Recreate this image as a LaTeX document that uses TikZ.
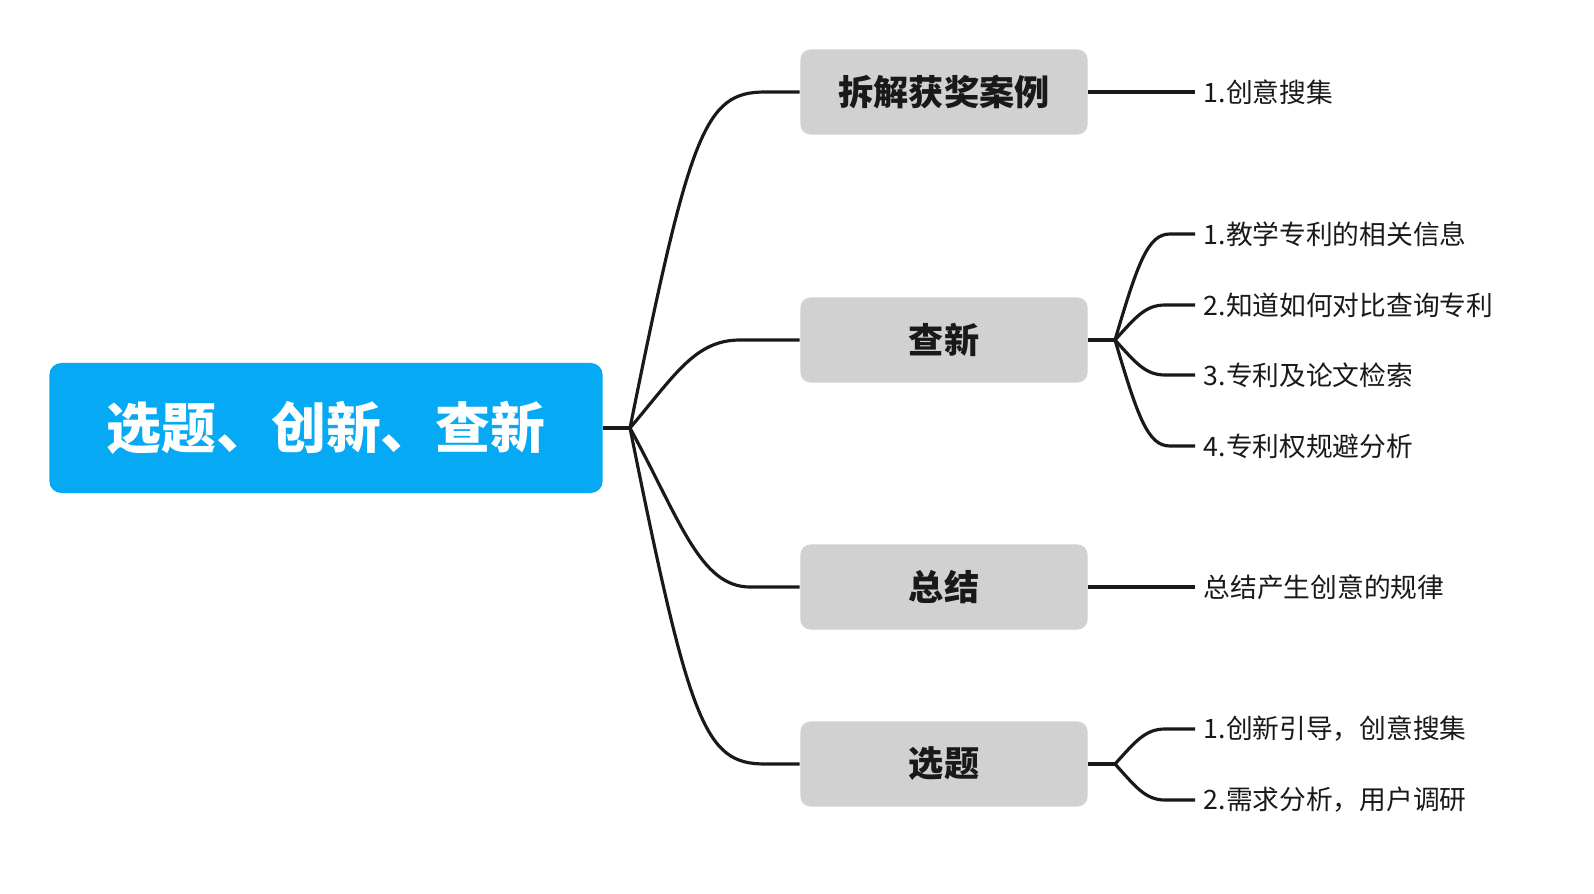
\documentclass[tikz,border=0pt]{standalone}
\usepackage{fontspec}
\newfontfamily\cjk{Noto Sans CJK SC}
\definecolor{topicblue}{RGB}{6,169,244}
\definecolor{subgray}{RGB}{209,209,209}
\tikzset{
  maintopic/.style={rectangle, rounded corners=0.12cm, fill=topicblue, text=white,
    minimum width=5.53cm, minimum height=1.30cm, font=\cjk\bfseries\fontsize{15.6}{18}\selectfont},
  subtopic/.style={rectangle, rounded corners=0.1cm, fill=subgray, text=black!90,
    minimum width=2.87cm, minimum height=0.85cm, font=\cjk\bfseries\fontsize{10}{12}\selectfont},
  leaf/.style={anchor=west, inner xsep=2.3pt, inner ysep=0pt, text=black!90,
    font=\cjk\fontsize{7.6}{9}\selectfont},
  branch/.style={line width=0.9pt, draw=black!90}
}
\begin{document}
\begin{tikzpicture}[x=0.01cm, y=-0.01cm]
\useasboundingbox (0,0) rectangle (1594,894);
%main topic
\node [maintopic] (root) at (326,428) {选题、创新、查新};
%sub topics
\node [subtopic] (case) at (944,92) {拆解获奖案例};
\node [subtopic] (check) at (944,340) {查新};
\node [subtopic] (sum) at (944,587) {总结};
\node [subtopic] (topic) at (944,764) {选题};
%branch points
\coordinate (R) at (630,428);
\coordinate (C) at (1115,340);
\coordinate (T) at (1115,764);
%leaves
\node [leaf] (case1) at (1195,92) {1.创意搜集};
\node [leaf] (check1) at (1195,234) {1.教学专利的相关信息};
\node [leaf] (check2) at (1195,305) {2.知道如何对比查询专利};
\node [leaf] (check3) at (1195,375) {3.专利及论文检索};
\node [leaf] (check4) at (1195,446) {4.专利权规避分析};
\node [leaf] (sum1) at (1195,587) {总结产生创意的规律};
\node [leaf] (topic1) at (1195,729) {1.创新引导，创意搜集};
\node [leaf] (topic2) at (1195,800) {2.需求分析，用户调研};

%root to sub topics
\draw [branch] (root.east) -- (R);
\draw [branch] (R) .. controls (690,130) and (705,92) .. (765,92) -- (case.west);
\draw [branch] (R) .. controls (675,375) and (695,340) .. (740,340) -- (check.west);
\draw [branch] (R) .. controls (680,520) and (700,587) .. (750,587) -- (sum.west);
\draw [branch] (R) .. controls (690,726) and (705,764) .. (765,764) -- (topic.west);
%sub topics to leaves
\draw [branch] (case.east) -- (case1.west);
\draw [branch] (sum.east) -- (sum1.west);
\draw [branch] (check.east) -- (C);
\draw [branch] (C) .. controls (1138,262) and (1148,234) .. (1170,234) -- (check1.west);
\draw [branch] (C) .. controls (1135,318) and (1145,305) .. (1165,305) -- (check2.west);
\draw [branch] (C) .. controls (1135,362) and (1145,375) .. (1165,375) -- (check3.west);
\draw [branch] (C) .. controls (1138,418) and (1148,446) .. (1170,446) -- (check4.west);
\draw [branch] (topic.east) -- (T);
\draw [branch] (T) .. controls (1135,742) and (1145,729) .. (1165,729) -- (topic1.west);
\draw [branch] (T) .. controls (1135,786) and (1145,800) .. (1165,800) -- (topic2.west);
\end{tikzpicture}
\end{document}
